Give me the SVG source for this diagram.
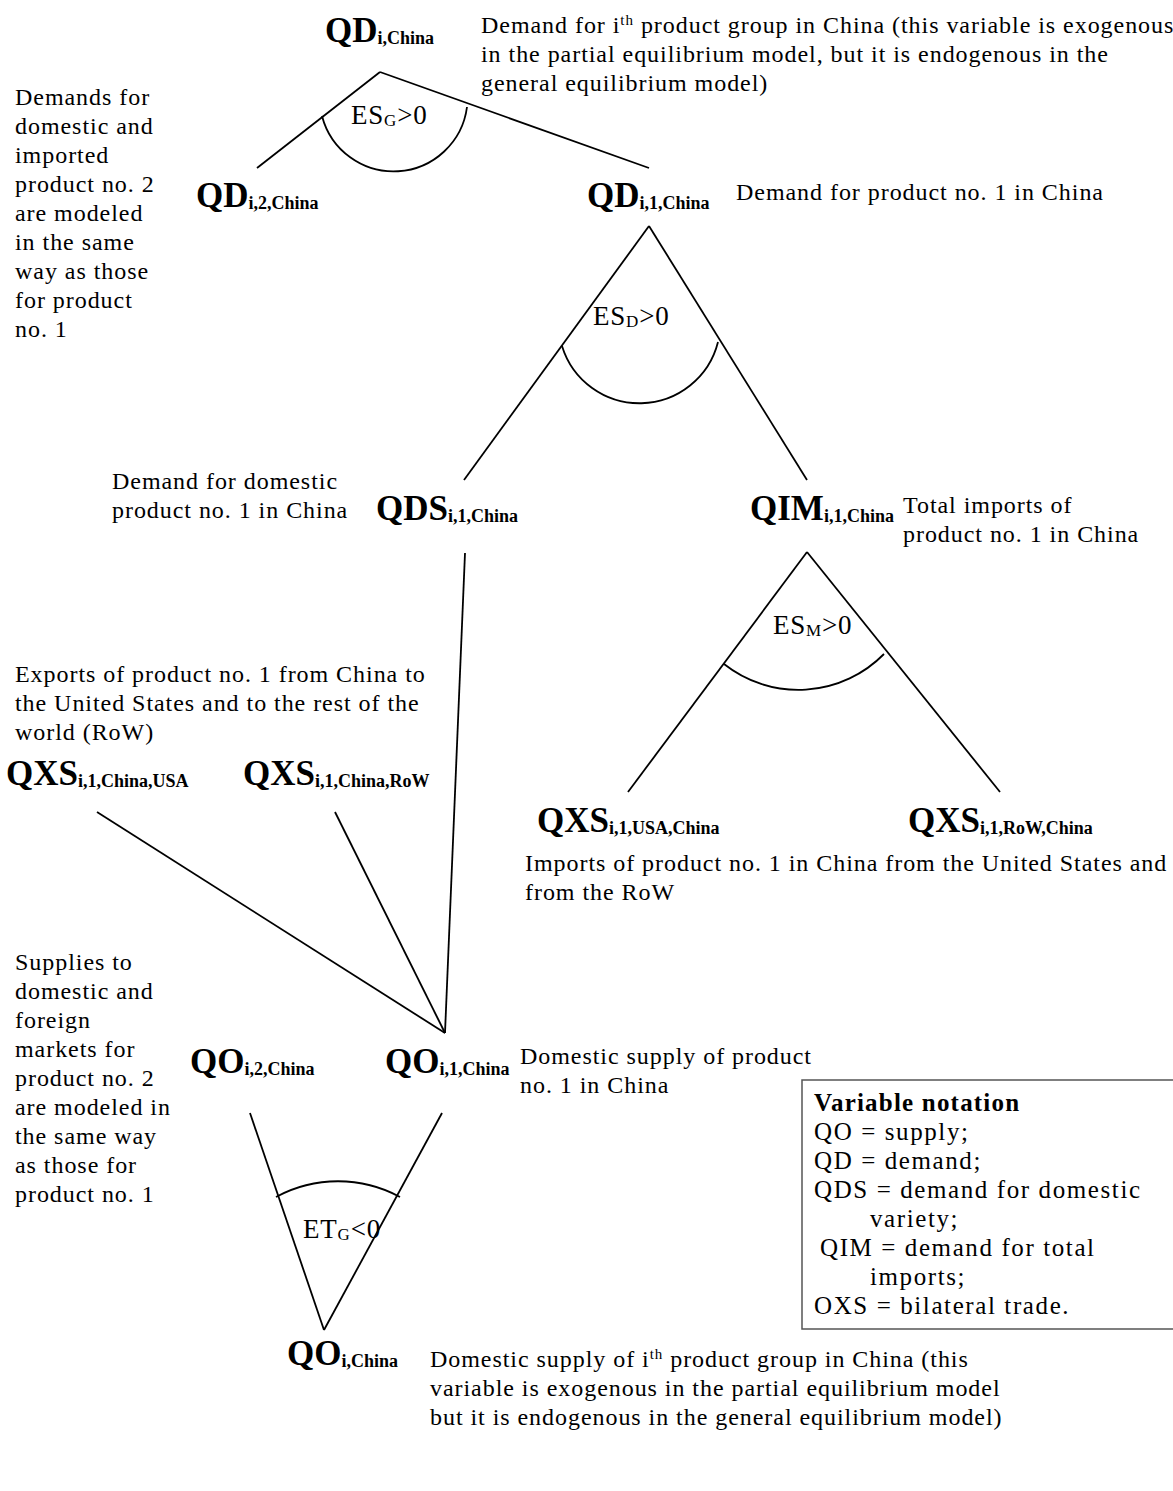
<svg xmlns="http://www.w3.org/2000/svg" width="1173" height="1491" viewBox="0 0 1173 1491">
<style>
text { font-family: "Liberation Serif", "Times New Roman", serif; fill: #000; }
.t { font-size: 24px; letter-spacing: 0.95px; }
.lab { font-size: 35px; font-weight: bold; }
.sub { font-size: 18px; font-weight: bold; }
.es { font-size: 27px; letter-spacing: 0.8px; }
.ess { font-size: 17px; }
.sup { font-size: 15px; }
.lg { font-size: 25px; letter-spacing: 1.6px; }
.lgb { font-size: 25px; font-weight: bold; letter-spacing: 1.2px; }
.ln { stroke: #000; stroke-width: 1.8; fill: none; }
.box { stroke: #555; stroke-width: 1.5; fill: #fff; }
</style>
<rect width="1173" height="1491" fill="#fff"/>

<g id="connectors">
  <path class="ln" d="M380,72 L257,168"/>
  <path class="ln" d="M380,72 L649,168"/>
  <path class="ln" d="M322,116 A74,74 0 0 0 467,107"/>
  <path class="ln" d="M649,226 L464,480"/>
  <path class="ln" d="M649,226 L807,480"/>
  <path class="ln" d="M562,346 A81,81 0 0 0 718,342"/>
  <path class="ln" d="M465,553 L445,1033"/>
  <path class="ln" d="M807,552 L628,792"/>
  <path class="ln" d="M807,552 L1000,792"/>
  <path class="ln" d="M724,664 A120,120 0 0 0 884,654"/>
  <path class="ln" d="M97,812 L445,1033"/>
  <path class="ln" d="M335,812 L445,1033"/>
  <path class="ln" d="M250,1113 L324,1330"/>
  <path class="ln" d="M442,1113 L324,1330"/>
  <path class="ln" d="M276,1197 A130,130 0 0 1 400,1197"/>
</g>

<g id="elasticities">
  <text class="es" x="351" y="124">ES<tspan class="ess" dy="2">G</tspan><tspan dy="-2">&gt;0</tspan></text>
  <text class="es" x="593" y="325">ES<tspan class="ess" dy="2">D</tspan><tspan dy="-2">&gt;0</tspan></text>
  <text class="es" x="773" y="634">ES<tspan class="ess" dy="2">M</tspan><tspan dy="-2">&gt;0</tspan></text>
  <text class="es" x="303" y="1238">ET<tspan class="ess" dy="2">G</tspan><tspan dy="-2">&lt;0</tspan></text>
</g>

<g id="node-qd-china">
  <text class="lab" x="325" y="42">QD<tspan class="sub" dy="2">i,China</tspan></text>
  <text class="t" x="481" y="33">Demand for i<tspan class="sup" dy="-8">th</tspan><tspan dy="8"> product group in China (this variable is exogenous</tspan></text>
  <text class="t" x="481" y="62">in the partial equilibrium model, but it is endogenous in the</text>
  <text class="t" x="481" y="91">general equilibrium model)</text>
</g>

<g id="node-qd-2">
  <text class="lab" x="196" y="207">QD<tspan class="sub" dy="2">i,2,China</tspan></text>
  <text class="t" x="15" y="105">Demands for</text>
  <text class="t" x="15" y="134">domestic and</text>
  <text class="t" x="15" y="163">imported</text>
  <text class="t" x="15" y="192">product no. 2</text>
  <text class="t" x="15" y="221">are modeled</text>
  <text class="t" x="15" y="250">in the same</text>
  <text class="t" x="15" y="279">way as those</text>
  <text class="t" x="15" y="308">for product</text>
  <text class="t" x="15" y="337">no. 1</text>
</g>

<g id="node-qd-1">
  <text class="lab" x="587" y="207">QD<tspan class="sub" dy="2">i,1,China</tspan></text>
  <text class="t" x="736" y="200">Demand for product no. 1 in China</text>
</g>

<g id="node-qds">
  <text class="lab" x="376" y="520">QDS<tspan class="sub" dy="2">i,1,China</tspan></text>
  <text class="t" x="112" y="489">Demand for domestic</text>
  <text class="t" x="112" y="518">product no. 1 in China</text>
</g>

<g id="node-qim">
  <text class="lab" x="750" y="520">QIM<tspan class="sub" dy="2">i,1,China</tspan></text>
  <text class="t" x="903" y="513">Total imports of</text>
  <text class="t" x="903" y="542">product no. 1 in China</text>
</g>

<g id="node-qxs-exports">
  <text class="t" x="15" y="682">Exports of product no. 1 from China to</text>
  <text class="t" x="15" y="711">the United States and to the rest of the</text>
  <text class="t" x="15" y="740">world (RoW)</text>
  <text class="lab" x="6" y="785">QXS<tspan class="sub" dy="2">i,1,China,USA</tspan></text>
  <text class="lab" x="243" y="785">QXS<tspan class="sub" dy="2">i,1,China,RoW</tspan></text>
</g>

<g id="node-qxs-imports">
  <text class="lab" x="537" y="832">QXS<tspan class="sub" dy="2">i,1,USA,China</tspan></text>
  <text class="lab" x="908" y="832">QXS<tspan class="sub" dy="2">i,1,RoW,China</tspan></text>
  <text class="t" x="525" y="871">Imports of product no. 1 in China from the United States and</text>
  <text class="t" x="525" y="900">from the RoW</text>
</g>

<g id="node-qo-2">
  <text class="lab" x="190" y="1073">QO<tspan class="sub" dy="2">i,2,China</tspan></text>
  <text class="t" x="15" y="970">Supplies to</text>
  <text class="t" x="15" y="999">domestic and</text>
  <text class="t" x="15" y="1028">foreign</text>
  <text class="t" x="15" y="1057">markets for</text>
  <text class="t" x="15" y="1086">product no. 2</text>
  <text class="t" x="15" y="1115">are modeled in</text>
  <text class="t" x="15" y="1144">the same way</text>
  <text class="t" x="15" y="1173">as those for</text>
  <text class="t" x="15" y="1202">product no. 1</text>
</g>

<g id="node-qo-1">
  <text class="lab" x="385" y="1073">QO<tspan class="sub" dy="2">i,1,China</tspan></text>
  <text class="t" x="520" y="1064">Domestic supply of product</text>
  <text class="t" x="520" y="1093">no. 1 in China</text>
</g>

<g id="node-qo-china">
  <text class="lab" x="287" y="1365">QO<tspan class="sub" dy="2">i,China</tspan></text>
  <text class="t" x="430" y="1367">Domestic supply of i<tspan class="sup" dy="-8">th</tspan><tspan dy="8"> product group in China (this</tspan></text>
  <text class="t" x="430" y="1396">variable is exogenous in the partial equilibrium model</text>
  <text class="t" x="430" y="1425">but it is endogenous in the general equilibrium model)</text>
</g>

<g id="legend">
  <rect class="box" x="802" y="1080" width="380" height="249"/>
  <text class="lgb" x="814" y="1111">Variable notation</text>
  <text class="lg" x="814" y="1140">QO = supply;</text>
  <text class="lg" x="814" y="1169">QD = demand;</text>
  <text class="lg" x="814" y="1198">QDS = demand for domestic</text>
  <text class="lg" x="870" y="1227">variety;</text>
  <text class="lg" x="820" y="1256">QIM = demand for total</text>
  <text class="lg" x="870" y="1285">imports;</text>
  <text class="lg" x="814" y="1314">OXS = bilateral trade.</text>
</g>
</svg>
